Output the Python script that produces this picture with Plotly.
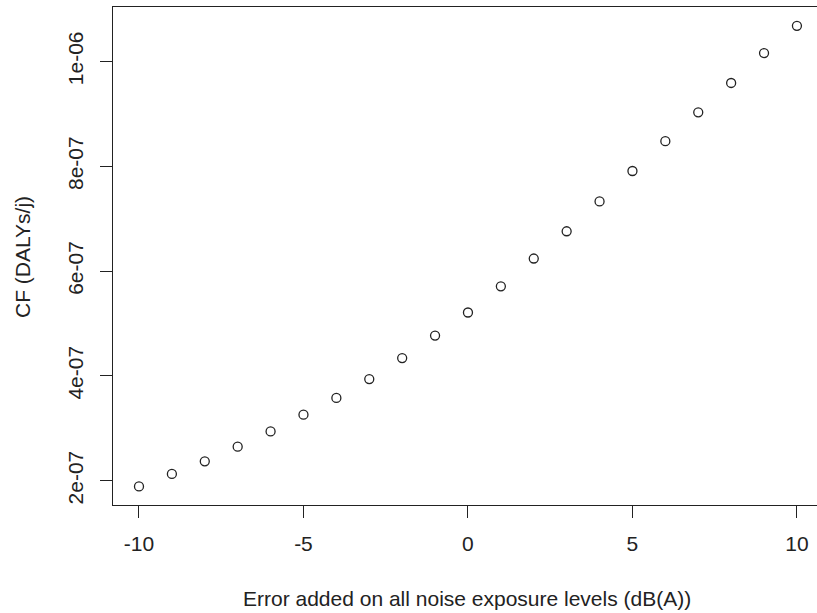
import plotly.graph_objects as go

error_db = [-10, -9, -8, -7, -6, -5, -4, -3, -2, -1, 0, 1, 2, 3, 4, 5, 6, 7, 8, 9, 10]
cf_values = [1.89e-7, 2.13e-7, 2.37e-7, 2.65e-7, 2.94e-7, 3.26e-7, 3.58e-7, 3.94e-7,
             4.34e-7, 4.77e-7, 5.21e-7, 5.71e-7, 6.24e-7, 6.76e-7, 7.33e-7, 7.91e-7,
             8.48e-7, 9.03e-7, 9.59e-7, 1.016e-6, 1.068e-6]
x_ticks = [-10, -5, 0, 5, 10]
y_ticks = [2e-7, 4e-7, 6e-7, 8e-7, 1e-6]
y_tick_labels = ["2e-07", "4e-07", "6e-07", "8e-07", "1e-06"]

FONT = "Liberation Sans, Arial, sans-serif"
INK = "#222222"
FS = 21

fig = go.Figure(go.Scatter(
    x=error_db, y=cf_values, mode="markers",
    marker=dict(symbol="circle-open", size=9, color=INK, line=dict(width=1.3, color=INK)),
))

fig.update_layout(
    width=817, height=613,
    margin=dict(l=113, r=0, t=7, b=108),
    paper_bgcolor="white", plot_bgcolor="white",
    showlegend=False,
    font=dict(family=FONT, size=FS, color=INK),
    xaxis=dict(
        range=[-10.79, 10.61], tickvals=x_ticks, ticktext=[str(v) for v in x_ticks],
        showgrid=False, zeroline=False, showline=True, linecolor=INK, linewidth=1.3,
        mirror=True, ticks="outside", ticklen=12, tickwidth=1.3, tickcolor=INK,
        ticklabelstandoff=8, tickfont=dict(size=FS, family=FONT, color=INK),
    ),
    yaxis=dict(
        range=[1.536e-7, 1.104e-6], tickvals=y_ticks, ticktext=y_tick_labels,
        showgrid=False, zeroline=False, showline=True, linecolor=INK, linewidth=1.3,
        mirror=False, ticks="outside", ticklen=12, tickwidth=1.3, tickcolor=INK,
        tickangle=-90, ticklabelstandoff=8, tickfont=dict(size=FS, family=FONT, color=INK),
    ),
    annotations=[
        dict(text="Error added on all noise exposure levels (dB(A))", xref="paper", yref="paper",
             x=(467 - 113) / 704, y=-(598 - 505) / 498, xanchor="center", yanchor="middle",
             showarrow=False, font=dict(size=FS, family=FONT, color=INK)),
        dict(text="CF (DALYs/j)", xref="paper", yref="paper",
             x=-(113 - 22) / 704, y=(505 - 257) / 498, xanchor="center", yanchor="middle",
             textangle=-90, showarrow=False, font=dict(size=FS, family=FONT, color=INK)),
    ],
)

fig.write_html("out.html")
